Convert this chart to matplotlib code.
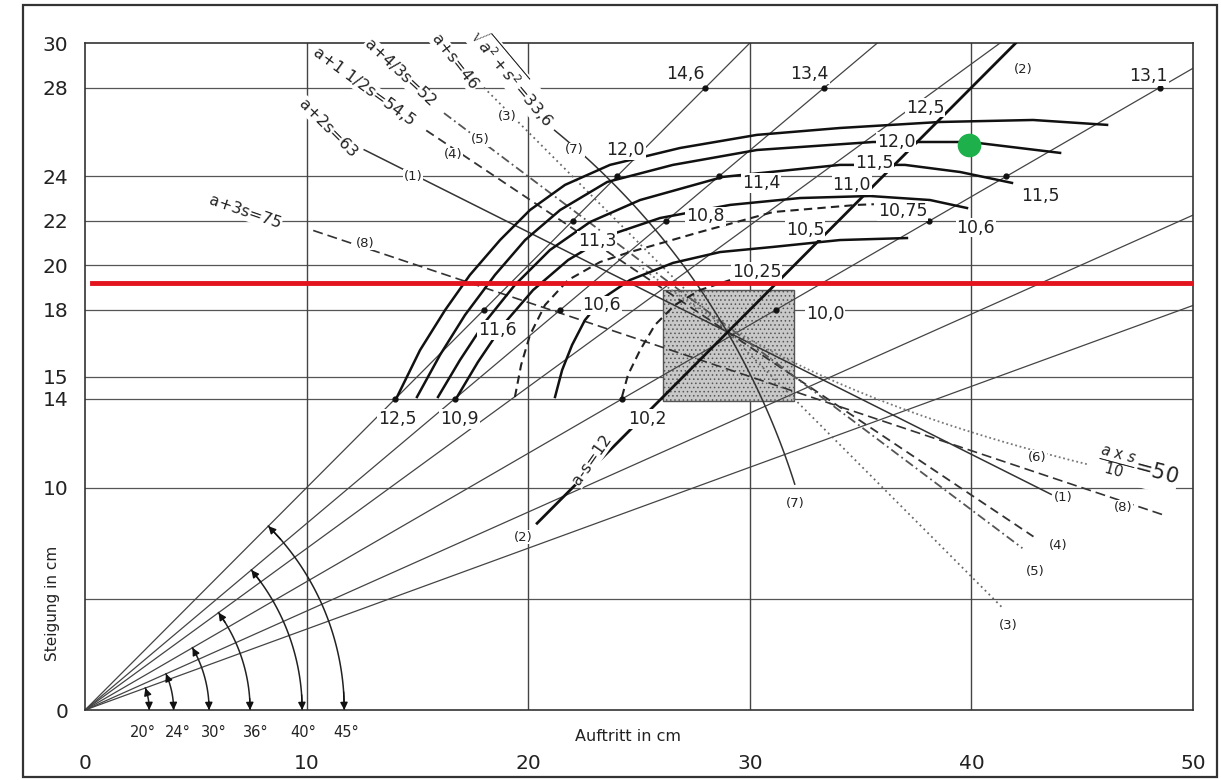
import numpy as np
import matplotlib.pyplot as plt
from matplotlib.patches import Rectangle

plt.rcParams['font.family'] = ['DejaVu Sans']
plt.rcParams['mathtext.fontset'] = 'dejavusans'
plt.rcParams['hatch.linewidth'] = 0.6

# axis / grid ==================================================================
x_ticks = [0, 10, 20, 30, 40, 50]
y_ticks = [0, 10, 14, 15, 18, 20, 22, 24, 28, 30]
h_grid = [5, 10, 14, 15, 18, 20, 22, 24, 28]
v_grid = [10, 20, 30, 40]

# rays from origin (degrees), radius of the angle arcs, where the labels sit
ray_deg = [20, 24, 30, 36, 40, 45]
arc_r = [2.9, 4.0, 5.6, 7.45, 9.8, 11.7]
ang_lab_x = [2.6, 4.2, 5.8, 7.7, 9.85, 11.8]

# straight rules (a, s) start / end
rule1 = [(12.6, 25.2), (43.6, 9.7)]      # a+2s=63
rule2 = [(20.4, 8.4), (42.0, 30.0)]      # a-s=12
rule3 = [(18.0, 28.0), (41.4, 4.6)]      # a+s=46
rule4 = [(15.4, 26.07), (42.8, 7.8)]     # a+1 1/2s=54,5
rule5 = [(16.2, 26.85), (42.3, 7.28)]    # a+4/3s=52
rule8 = [(10.3, 21.57), (48.8, 8.73)]    # a+3s=75
prod6 = 500                               # a*s/10 = 50
a6_range = (25.0, 45.3)
rad7 = 33.6                               # sqrt(a^2+s^2) = 33,6
ang7_range = (17.6, 50.9)

# iso curves ===================================================================
c125_x = [14.08, 15.12, 16.25, 17.37, 18.73, 20.08, 21.66, 23.69, 26.85, 30.32, 34.07, 38.58, 42.78, 46.12]
c125_y = [14.08, 16.19, 17.99, 19.57, 21.14, 22.49, 23.62, 24.52, 25.28, 25.87, 26.18, 26.45, 26.54, 26.32]
c120_x = [14.98, 16.02, 17.15, 18.50, 19.86, 21.44, 23.56, 26.53, 30.32, 35.56, 39.94, 44.0]
c120_y = [14.08, 15.97, 17.77, 19.57, 21.14, 22.49, 23.75, 24.52, 25.19, 25.55, 25.55, 25.06]
c115_x = [15.93, 16.92, 18.05, 19.40, 20.98, 22.79, 25.05, 28.79, 34.07, 37.00, 39.49, 41.83]
c115_y = [14.08, 15.74, 17.45, 19.12, 20.69, 21.95, 22.94, 23.98, 24.52, 24.52, 24.20, 23.71]
c110_x = [16.79, 17.73, 18.86, 20.22, 21.80, 23.69, 25.95, 29.11, 32.27, 35.42, 38.13, 39.80]
c110_y = [14.08, 15.65, 17.32, 18.89, 20.24, 21.37, 22.13, 22.72, 23.03, 23.12, 22.94, 22.58]
c1075_x = [19.40, 19.68, 20.08, 20.76, 21.80, 23.24, 24.46, 27.75, 31.05, 34.84, 35.6]
c1075_y = [14.08, 15.52, 16.87, 18.22, 19.34, 20.15, 20.56, 21.50, 22.40, 22.72, 22.75]
c105_x = [21.21, 21.53, 21.98, 22.56, 23.38, 24.59, 26.53, 28.66, 31.05, 34.07, 37.09]
c105_y = [14.08, 15.29, 16.42, 17.54, 18.53, 19.34, 20.11, 20.60, 20.83, 21.14, 21.23]
c1025_x = [24.23, 24.50, 25.05, 25.72, 26.62, 27.75, 29.11]
c1025_y = [14.08, 15.07, 16.19, 17.32, 18.22, 18.89, 19.34]

# dots where rays cross the grid lines
dot_deg = [45, 40, 30, 45, 40, 30, 45, 40, 30, 45, 40, 30, 45, 40, 30]
dot_s = [14, 14, 14, 18, 18, 18, 22, 22, 22, 24, 24, 24, 28, 28, 28]

value_labels = [('14,6', 27.1, 28.6), ('13,4', 32.7, 28.6), ('13,1', 48.0, 28.5),
                ('12,5', 37.9, 27.1), ('12,0', 36.6, 25.55), ('11,5', 35.6, 24.6),
                ('11,0', 34.6, 23.6), ('10,75', 36.9, 22.45), ('10,6', 40.2, 21.7),
                ('11,5', 43.1, 23.1), ('10,5', 32.5, 21.6), ('10,25', 30.3, 19.7),
                ('10,0', 33.4, 17.8), ('11,4', 30.5, 23.7), ('10,8', 28.0, 22.2),
                ('11,3', 23.1, 21.1), ('12,0', 24.4, 25.2), ('11,6', 18.6, 17.1),
                ('10,6', 23.3, 18.2), ('12,5', 14.1, 13.1), ('10,9', 16.9, 13.1),
                ('10,2', 25.4, 13.1)]

tag_labels = [('(8)', 12.64, 21.0), ('(1)', 14.8, 24.0), ('(4)', 16.6, 24.97),
              ('(5)', 17.83, 25.64), ('(3)', 19.04, 26.68), ('(7)', 22.1, 25.19),
              ('(1)', 44.13, 9.58), ('(8)', 46.84, 9.13), ('(4)', 43.91, 7.42),
              ('(5)', 42.87, 6.21), ('(3)', 41.65, 3.82), ('(7)', 32.04, 9.31),
              ('(6)', 42.96, 11.38), ('(2)', 19.77, 7.78), ('(2)', 42.33, 28.79)]

formula_labels = [('a+3s=75', 7.22, 22.4, -19, 11.5), ('a+2s=63', 10.97, 26.18, -45, 11.5),
                  ('a+1 1/2s=54,5', 12.59, 28.03, -36, 11.5), ('a+4/3s=52', 14.21, 28.66, -43, 11.5),
                  ('a+s=46', 16.7, 29.15, -52, 11.5), (r'$\sqrt{a^2+s^2}$=33,6', 19.31, 28.48, -50, 11.5),
                  ('a-s=12', 22.88, 11.25, 55, 11.5),
                  (r'$\frac{a\ \mathrm{x}\ s}{10}$=50', 47.5, 10.8, -15, 15)]

# box and marks
box_a = (26.1, 32.0)
box_s = (13.9, 18.9)
red_s = 19.2
green_pt = (39.9, 25.4)

fig = plt.figure(figsize=(12.21, 7.80), dpi=100)
ax = fig.add_axes([0.0696, 0.0897, 0.9075, 0.8551])
ax.set_xlim(0, 50)
ax.set_ylim(0, 30)

for sp in ax.spines.values():
    sp.set_color('#333333')
    sp.set_linewidth(1.2)

ax.set_xticks(x_ticks)
ax.set_yticks(y_ticks)
ax.tick_params(length=0, labelsize=14.5, colors='#222222')
ax.tick_params(axis='x', pad=32)
ax.tick_params(axis='y', pad=12)

for y in h_grid:
    ax.axhline(y, color='#555555', lw=0.9, zorder=1)
for x in v_grid:
    ax.axvline(x, color='#444444', lw=1.0, zorder=1)

# box
ax.add_patch(Rectangle((box_a[0], box_s[0]), box_a[1] - box_a[0], box_s[1] - box_s[0],
                       facecolor='#c8c8c8', edgecolor='#555555', hatch='....',
                       lw=1.0, zorder=1.5))

# rays and angle arcs
for d, r, lx in zip(ray_deg, arc_r, ang_lab_x):
    t = np.tan(np.radians(d))
    xe = min(50, 30 / t)
    ax.plot([0, xe], [0, xe * t], color='#444444', lw=0.9, zorder=2)
    th = np.radians(np.linspace(0, d, 60))
    ax.plot(r * np.cos(th), r * np.sin(th), color='#222222', lw=1.1, zorder=3)
    for a0, a1 in [(d - 4, d), (4, 0)]:
        ax.annotate('', xy=(r * np.cos(np.radians(a1)), r * np.sin(np.radians(a1))),
                    xytext=(r * np.cos(np.radians(a0)), r * np.sin(np.radians(a0))),
                    arrowprops=dict(arrowstyle='-|>', color='#111111', lw=1,
                                    mutation_scale=11, shrinkA=0, shrinkB=0),
                    zorder=3)
    ax.text(lx, -1.0, '%d°' % d, ha='center', va='center', fontsize=10.5,
            color='#222222', clip_on=False)

# rules
ax.plot(*zip(*rule1), color='#333333', lw=1.1, zorder=3)
ax.plot(*zip(*rule2), color='#111111', lw=2.0, zorder=4)
ax.plot(*zip(*rule3), color='#666666', lw=1.3, ls=(0, (1, 2)), zorder=3)
ax.plot(*zip(*rule4), color='#333333', lw=1.3, ls=(0, (5, 3)), zorder=3)
ax.plot(*zip(*rule5), color='#555555', lw=1.3, ls=(0, (5, 2, 1, 2)), zorder=3)
ax.plot(*zip(*rule8), color='#333333', lw=1.2, ls=(0, (6, 3)), zorder=3)
a6 = np.linspace(a6_range[0], a6_range[1], 80)
ax.plot(a6, prod6 / a6, color='#777777', lw=1.3, ls=(0, (1, 1.5)), zorder=3)
th7 = np.radians(np.linspace(ang7_range[0], ang7_range[1], 80))
ax.plot(rad7 * np.cos(th7), rad7 * np.sin(th7), color='#333333', lw=1.1, zorder=3)

# iso curves
for cx, cy in [(c125_x, c125_y), (c120_x, c120_y), (c115_x, c115_y),
               (c110_x, c110_y), (c105_x, c105_y)]:
    ax.plot(cx, cy, color='#111111', lw=1.8, zorder=4)
for cx, cy in [(c1075_x, c1075_y), (c1025_x, c1025_y)]:
    ax.plot(cx, cy, color='#222222', lw=1.5, ls=(0, (4, 2.5)), zorder=4)

# dots
dd = np.radians(dot_deg)
ds = np.array(dot_s, dtype=float)
ax.plot(ds / np.tan(dd), ds, 'o', color='#111111', ms=3.5, zorder=5)

wb = dict(facecolor='white', edgecolor='none', pad=0.6)
for s, x, y in value_labels:
    ax.text(x, y, s, ha='center', va='center', fontsize=12.5, color='#222222',
            bbox=wb, zorder=6)
for s, x, y in tag_labels:
    ax.text(x, y, s, ha='center', va='center', fontsize=9.5, color='#222222',
            bbox=wb, zorder=6)
for s, x, y, rot, fs in formula_labels:
    ax.text(x, y, s, ha='center', va='center', fontsize=fs, color='#222222',
            rotation=rot, rotation_mode='anchor', bbox=wb, zorder=6)

# red line and green point
ax.plot([0.3, 50], [red_s, red_s], color='#e3141d', lw=3.5, zorder=7)
ax.plot(*green_pt, 'o', color='#1db04b', ms=16, zorder=8)

ax.text(24.5, -1.2, 'Auftritt in cm', ha='center', va='center', fontsize=11.5,
        color='#222222', clip_on=False)
ax.text(-1.45, 4.8, 'Steigung in cm', ha='center', va='center', fontsize=11,
        rotation=90, color='#222222', clip_on=False)

fig.add_artist(Rectangle((23 / 1221, 3 / 780), (1217 - 23) / 1221, (775 - 3) / 780,
                         transform=fig.transFigure, fill=False, lw=1.6,
                         edgecolor='#333333'))

fig.savefig('out.png', dpi=100, facecolor='white')
